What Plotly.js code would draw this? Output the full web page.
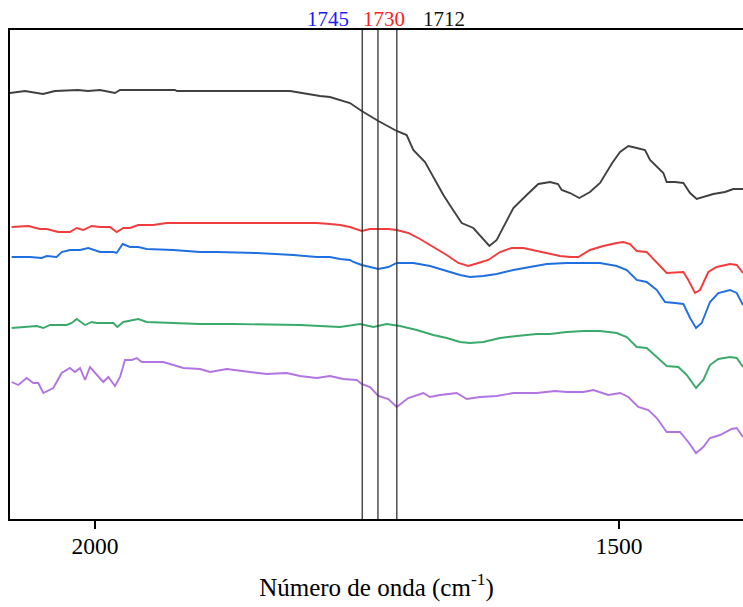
<!DOCTYPE html>
<html>
<head>
<meta charset="utf-8">
<script src="https://cdn.plot.ly/plotly-3.0.1.min.js"></script>
<style>
html,body{margin:0;padding:0;background:#fff;overflow:hidden;}
#chart{width:743px;height:607px;}
</style>
</head>
<body>
<div id="chart"></div>
<script>
// Wavenumber (cm-1) and relative intensity (arbitrary units, stacked)
const wnBlack = [2081.1,2066.8,2049.6,2038.2,2016.2,2006.7,1995.2,1980.9,1976.1,1923.7,1921.8,1813.9,1785.3,1775.8,1756.7,1745.5,1729.6,1712.1,1702.6,1696.3,1685.1,1677.2,1667.6,1659.6,1650.1,1639.0,1631.0,1623.7,1616.7,1610.4,1600.8,1588.1,1577.0,1565.8,1558.2,1554.7,1546.7,1537.9,1527.7,1518.1,1506.5,1499.0,1491.1,1483.1,1475.2,1470.4,1457.7,1454.5,1446.6,1438.6,1432.2,1425.9,1419.5,1410.0,1398.9,1390.9,1381.7];
const yBlack  = [4.26,4.28,4.25,4.28,4.29,4.28,4.29,4.26,4.29,4.29,4.28,4.28,4.23,4.22,4.16,4.08,3.98,3.88,3.84,3.69,3.57,3.42,3.24,3.11,2.96,2.91,2.81,2.73,2.79,2.92,3.11,3.24,3.35,3.37,3.35,3.29,3.26,3.21,3.27,3.36,3.56,3.67,3.73,3.71,3.69,3.59,3.46,3.37,3.37,3.36,3.26,3.20,3.22,3.25,3.27,3.30,3.30];

const wnRed = [2079.5,2063.6,2052.5,2046.1,2035.0,2023.9,2017.5,2011.2,2003.1,1995.2,1985.7,1979.3,1973.0,1966.6,1958.7,1944.4,1931.6,1899.8,1817.1,1788.5,1775.8,1766.2,1756.7,1745.5,1737.6,1720.1,1712.1,1701.1,1689.9,1677.2,1664.4,1653.3,1643.8,1634.3,1624.7,1613.5,1602.4,1591.3,1581.8,1569.0,1556.3,1546.8,1538.8,1527.7,1515.0,1502.2,1495.9,1489.5,1483.1,1473.6,1464.0,1454.5,1438.6,1433.9,1427.5,1422.7,1414.8,1406.8,1394.1,1387.7,1381.7];
const yRed  = [2.92,2.93,2.90,2.90,2.87,2.87,2.91,2.89,2.93,2.92,2.92,2.87,2.91,2.91,2.94,2.94,2.96,2.96,2.96,2.96,2.95,2.94,2.92,2.88,2.90,2.90,2.89,2.86,2.80,2.72,2.64,2.56,2.53,2.56,2.59,2.67,2.71,2.71,2.69,2.66,2.63,2.62,2.62,2.69,2.73,2.76,2.77,2.75,2.68,2.67,2.56,2.46,2.47,2.39,2.26,2.29,2.47,2.52,2.55,2.54,2.46];

const wnBlue = [2079.5,2062.0,2050.8,2046.1,2036.6,2031.8,2023.9,2014.3,2006.4,1995.2,1982.5,1979.3,1973.6,1966.6,1958.7,1950.7,1925.3,1899.8,1883.9,1845.7,1810.8,1788.5,1775.8,1766.2,1756.7,1753.5,1745.5,1729.6,1720.1,1712.1,1696.3,1680.3,1664.4,1651.7,1642.2,1629.5,1616.7,1600.8,1585.0,1569.0,1549.9,1534.0,1518.1,1502.2,1492.6,1483.1,1473.6,1464.0,1456.1,1446.6,1438.6,1432.2,1426.5,1421.1,1413.2,1405.2,1394.1,1387.7,1381.7];
const yBlue  = [2.62,2.62,2.61,2.63,2.62,2.67,2.69,2.69,2.71,2.67,2.67,2.66,2.75,2.72,2.72,2.70,2.69,2.67,2.67,2.66,2.64,2.62,2.62,2.60,2.59,2.57,2.54,2.50,2.52,2.56,2.56,2.53,2.48,2.44,2.42,2.43,2.45,2.49,2.52,2.55,2.56,2.56,2.56,2.53,2.49,2.39,2.37,2.29,2.17,2.16,2.15,2.01,1.91,1.96,2.17,2.26,2.29,2.26,2.14];

const wnGreen = [2079.5,2055.6,2049.3,2042.9,2027.0,2022.2,2017.4,2009.5,2003.1,1998.4,1982.5,1978.7,1973.0,1958.7,1950.7,1931.6,1899.8,1868.0,1804.4,1766.2,1747.1,1734.4,1721.7,1709.0,1693.0,1677.2,1664.4,1651.7,1642.2,1629.5,1613.5,1597.6,1578.5,1565.8,1549.9,1534.0,1518.1,1502.2,1492.6,1483.1,1473.6,1464.0,1454.5,1443.4,1435.4,1426.5,1419.6,1413.2,1405.2,1394.1,1387.7,1381.7];
const yGreen  = [1.91,1.93,1.91,1.94,1.94,1.96,2.00,1.94,1.97,1.96,1.96,1.92,1.97,2.00,1.97,1.96,1.95,1.95,1.94,1.92,1.95,1.92,1.95,1.93,1.89,1.84,1.81,1.77,1.76,1.77,1.81,1.83,1.85,1.85,1.87,1.88,1.88,1.86,1.82,1.72,1.71,1.62,1.53,1.52,1.44,1.31,1.39,1.54,1.60,1.62,1.61,1.52];

const wnPurple = [2079.5,2073.2,2065.2,2058.9,2054.1,2049.3,2039.8,2031.8,2023.9,2019.1,2014.3,2009.5,2004.8,2000.0,1992.1,1987.3,1980.9,1976.1,1971.4,1965.0,1960.2,1955.4,1934.8,1915.7,1899.8,1890.3,1874.3,1852.1,1836.2,1817.1,1804.4,1788.5,1775.8,1763.1,1750.3,1745.5,1737.6,1729.6,1720.1,1712.1,1701.1,1686.7,1680.3,1670.8,1654.9,1645.3,1632.6,1616.7,1600.8,1578.5,1561.1,1549.9,1534.0,1524.5,1510.2,1499.0,1491.1,1481.6,1472.0,1464.0,1454.5,1441.8,1433.9,1426.5,1419.6,1413.2,1403.6,1392.5,1387.7,1381.7];
const yPurple  = [1.37,1.34,1.41,1.36,1.36,1.26,1.31,1.46,1.51,1.47,1.51,1.39,1.52,1.46,1.37,1.42,1.33,1.42,1.59,1.59,1.61,1.57,1.57,1.51,1.50,1.47,1.50,1.47,1.45,1.46,1.43,1.41,1.43,1.40,1.39,1.35,1.32,1.23,1.20,1.12,1.21,1.26,1.22,1.24,1.26,1.20,1.22,1.23,1.26,1.26,1.28,1.27,1.27,1.29,1.24,1.26,1.22,1.12,1.09,1.01,0.87,0.87,0.77,0.66,0.72,0.81,0.84,0.90,0.91,0.82];

// Marker bands
const bandPos    = [1745, 1730, 1712];
const bandLabels = ['1745', '1730', '1712'];
const bandColors = ['#1a1aff', '#ff2020', '#111111'];
const bandShift  = [-34, 6, 47];

const tickVals = [2000, 1500];

const series = [
  {x: wnBlack,  y: yBlack,  color: '#404040'},
  {x: wnRed,    y: yRed,    color: '#f23b3b'},
  {x: wnBlue,   y: yBlue,   color: '#1f6fe0'},
  {x: wnGreen,  y: yGreen,  color: '#3aaa6a'},
  {x: wnPurple, y: yPurple, color: '#b274e2'}
];

const traces = series.map(s => ({
  x: s.x, y: s.y, type: 'scatter', mode: 'lines',
  line: {color: s.color, width: 1.9}, hoverinfo: 'skip', showlegend: false
}));

const shapes = bandPos.map(p => ({
  type: 'line', xref: 'x', yref: 'paper', x0: p, x1: p, y0: 0, y1: 1,
  line: {color: '#333333', width: 1.3}
}));

const annotations = bandPos.map((p, i) => ({
  x: p, xref: 'x', y: 1, yref: 'paper', yanchor: 'bottom', xanchor: 'center',
  xshift: bandShift[i], yshift: -3, showarrow: false, text: bandLabels[i],
  font: {family: 'Liberation Serif, Times New Roman, serif', size: 21, color: bandColors[i]}
}));

const layout = {
  width: 743, height: 607,
  margin: {l: 10, r: 0, t: 30, b: 88},
  paper_bgcolor: '#ffffff', plot_bgcolor: '#ffffff',
  font: {family: 'Liberation Serif, Times New Roman, serif', color: '#000'},
  xaxis: {
    range: [2081.1, 1381.7], tickvals: tickVals, ticktext: tickVals.map(String),
    ticks: 'outside', ticklen: 8, tickwidth: 2, tickcolor: '#000',
    ticklabelstandoff: -3,
    showline: true, linewidth: 2, linecolor: '#000', mirror: true,
    showgrid: false, zeroline: false,
    tickfont: {size: 23.5, family: 'Liberation Serif, Times New Roman, serif'},
    title: {text: 'Número de onda (cm<sup>-1</sup>)', standoff: 20,
            font: {size: 25, family: 'Liberation Serif, Times New Roman, serif'}}
  },
  yaxis: {
    range: [0, 4.89], showline: true, linewidth: 2, linecolor: '#000',
    showticklabels: false, ticks: '', showgrid: false, zeroline: false
  },
  shapes: shapes,
  annotations: annotations
};

Plotly.newPlot('chart', traces, layout, {displayModeBar: false, staticPlot: true});
</script>
</body>
</html>
